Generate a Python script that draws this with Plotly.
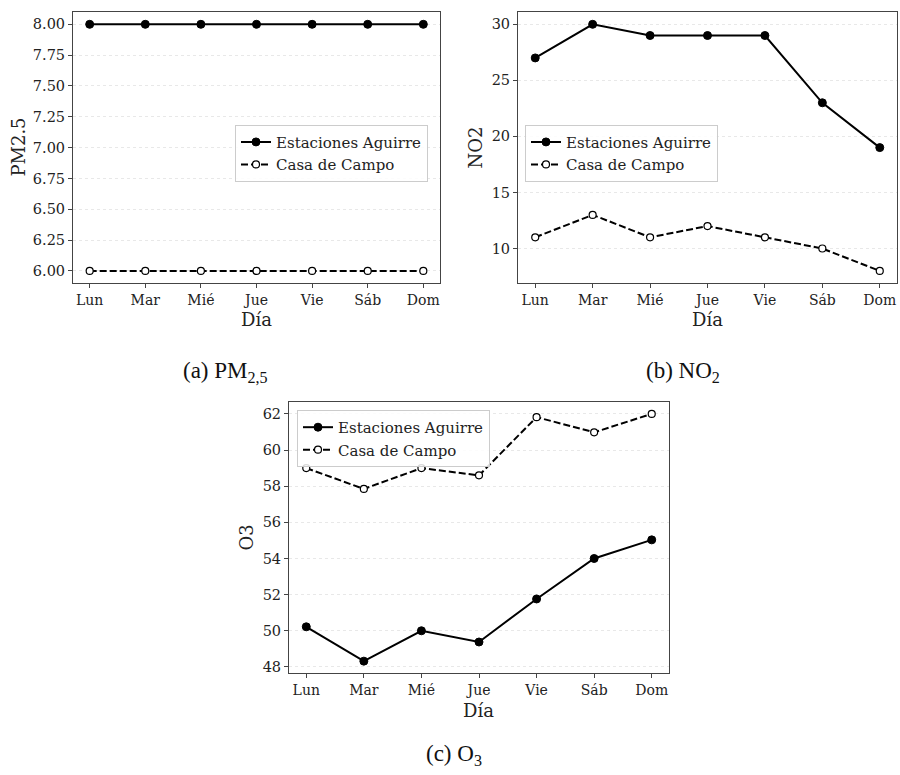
import plotly.graph_objects as go

dias = ["Lun", "Mar", "Mié", "Jue", "Vie", "Sáb", "Dom"]

pm25_aguirre = [8, 8, 8, 8, 8, 8, 8]
pm25_campo = [6, 6, 6, 6, 6, 6, 6]

no2_aguirre = [27, 30, 29, 29, 29, 23, 19]
no2_campo = [11, 13, 11, 12, 11, 10, 8]

o3_aguirre = [50.22, 48.32, 50.0, 49.38, 51.76, 54.0, 55.03]
o3_campo = [59.0, 57.85, 59.0, 58.6, 61.82, 60.98, 62.0]

y_titles = ["PM2.5", "NO2", "O3"]
y_ticks = [
    [6.0, 6.25, 6.5, 6.75, 7.0, 7.25, 7.5, 7.75, 8.0],
    [10, 15, 20, 25, 30],
    [48, 50, 52, 54, 56, 58, 60, 62],
]
y_ticktext = [
    ["6.00", "6.25", "6.50", "6.75", "7.00", "7.25", "7.50", "7.75", "8.00"],
    ["10", "15", "20", "25", "30"],
    ["48", "50", "52", "54", "56", "58", "60", "62"],
]
y_ranges = [[5.9, 8.1], [6.9, 31.1], [47.65, 62.66]]
captions = ["(a) PM<sub>2,5</sub>", "(b) NO<sub>2</sub>", "(c) O<sub>3</sub>"]

W, H = 900, 775
FONT = "DejaVu Serif"

# panel boxes in pixels: (left, right, top, bottom)
boxes = [(73, 440, 12, 284), (518, 897, 12, 284), (289, 669, 403, 675)]

series = [
    (pm25_aguirre, pm25_campo),
    (no2_aguirre, no2_campo),
    (o3_aguirre, o3_campo),
]

fig = go.Figure()
legend_names = ["legend", "legend2", "legend3"]
for i, (ag, cc) in enumerate(series):
    xa = "x" if i == 0 else f"x{i+1}"
    ya = "y" if i == 0 else f"y{i+1}"
    fig.add_trace(go.Scatter(
        x=dias, y=ag, xaxis=xa, yaxis=ya, mode="lines+markers",
        name="Estaciones Aguirre", legend=legend_names[i],
        line=dict(color="black", width=2),
        marker=dict(symbol="circle", size=8, color="black",
                    line=dict(color="black", width=1)),
    ))
    fig.add_trace(go.Scatter(
        x=dias, y=cc, xaxis=xa, yaxis=ya, mode="lines+markers",
        name="Casa de Campo", legend=legend_names[i],
        line=dict(color="black", width=2, dash="7px,3px"),
        marker=dict(symbol="circle", size=7, color="white",
                    line=dict(color="black", width=1.2)),
    ))

layout = dict(
    width=W, height=H, margin=dict(l=0, r=0, t=0, b=0),
    paper_bgcolor="white", plot_bgcolor="white",
    font=dict(family=FONT, color="#222", size=14),
    showlegend=True,
)

annotations = []
for i, (l, r, t, b) in enumerate(boxes):
    sfx = "" if i == 0 else str(i + 1)
    layout["xaxis" + sfx] = dict(
        domain=[l / W, r / W], anchor="y" + sfx, type="category",
        range=[-0.3, 6.3], showline=True, linecolor="#444", linewidth=1,
        mirror=True, ticks="outside", ticklen=4, tickcolor="#444",
        showgrid=False, tickfont=dict(family=FONT, size=14, color="#222"),
        zeroline=False,
    )
    layout["yaxis" + sfx] = dict(
        domain=[1 - b / H, 1 - t / H], anchor="x" + sfx,
        range=y_ranges[i], tickvals=y_ticks[i], ticktext=y_ticktext[i],
        showline=True, linecolor="#444", linewidth=1, mirror=True,
        ticks="outside", ticklen=4, tickcolor="#444",
        showgrid=True, gridcolor="#e8e8e8", gridwidth=0.8, griddash="dot",
        tickfont=dict(family=FONT, size=14.5, color="#222"), zeroline=False,
    )

# axis titles
ytitle_x = [19, 476, 247]
xtitle_pos = [(256, 320), (707, 320), (478, 712)]
for i, (l, r, t, b) in enumerate(boxes):
    annotations.append(dict(
        text=y_titles[i], x=ytitle_x[i] / W, y=1 - ((t + b) / 2) / H,
        xref="paper", yref="paper", showarrow=False, textangle=-90,
        xanchor="center", yanchor="middle",
        font=dict(family=FONT, size=18, color="#222"),
    ))
    annotations.append(dict(
        text="Día", x=xtitle_pos[i][0] / W, y=1 - xtitle_pos[i][1] / H,
        xref="paper", yref="paper", showarrow=False,
        xanchor="center", yanchor="middle",
        font=dict(family=FONT, size=18, color="#222"),
    ))

cap_pos = [(225, 373), (683, 373), (454, 757)]
for i, c in enumerate(captions):
    annotations.append(dict(
        text=c, x=cap_pos[i][0] / W, y=1 - cap_pos[i][1] / H,
        xref="paper", yref="paper", showarrow=False,
        xanchor="center", yanchor="middle",
        font=dict(family="Liberation Serif", size=23, color="#111"),
    ))

layout["annotations"] = annotations

leg_pos = [(235, 125), (525, 125), (297, 411)]
for i, name in enumerate(legend_names):
    layout[name] = dict(
        x=leg_pos[i][0] / W, y=1 - leg_pos[i][1] / H,
        xref="paper", yref="paper", xanchor="left", yanchor="top",
        bgcolor="rgba(255,255,255,0.85)", bordercolor="#cccccc",
        borderwidth=1, font=dict(family=FONT, size=15, color="#222"),
        itemwidth=30, tracegroupgap=0,
    )

fig.update_layout(**layout)
fig.write_html("out.html")
